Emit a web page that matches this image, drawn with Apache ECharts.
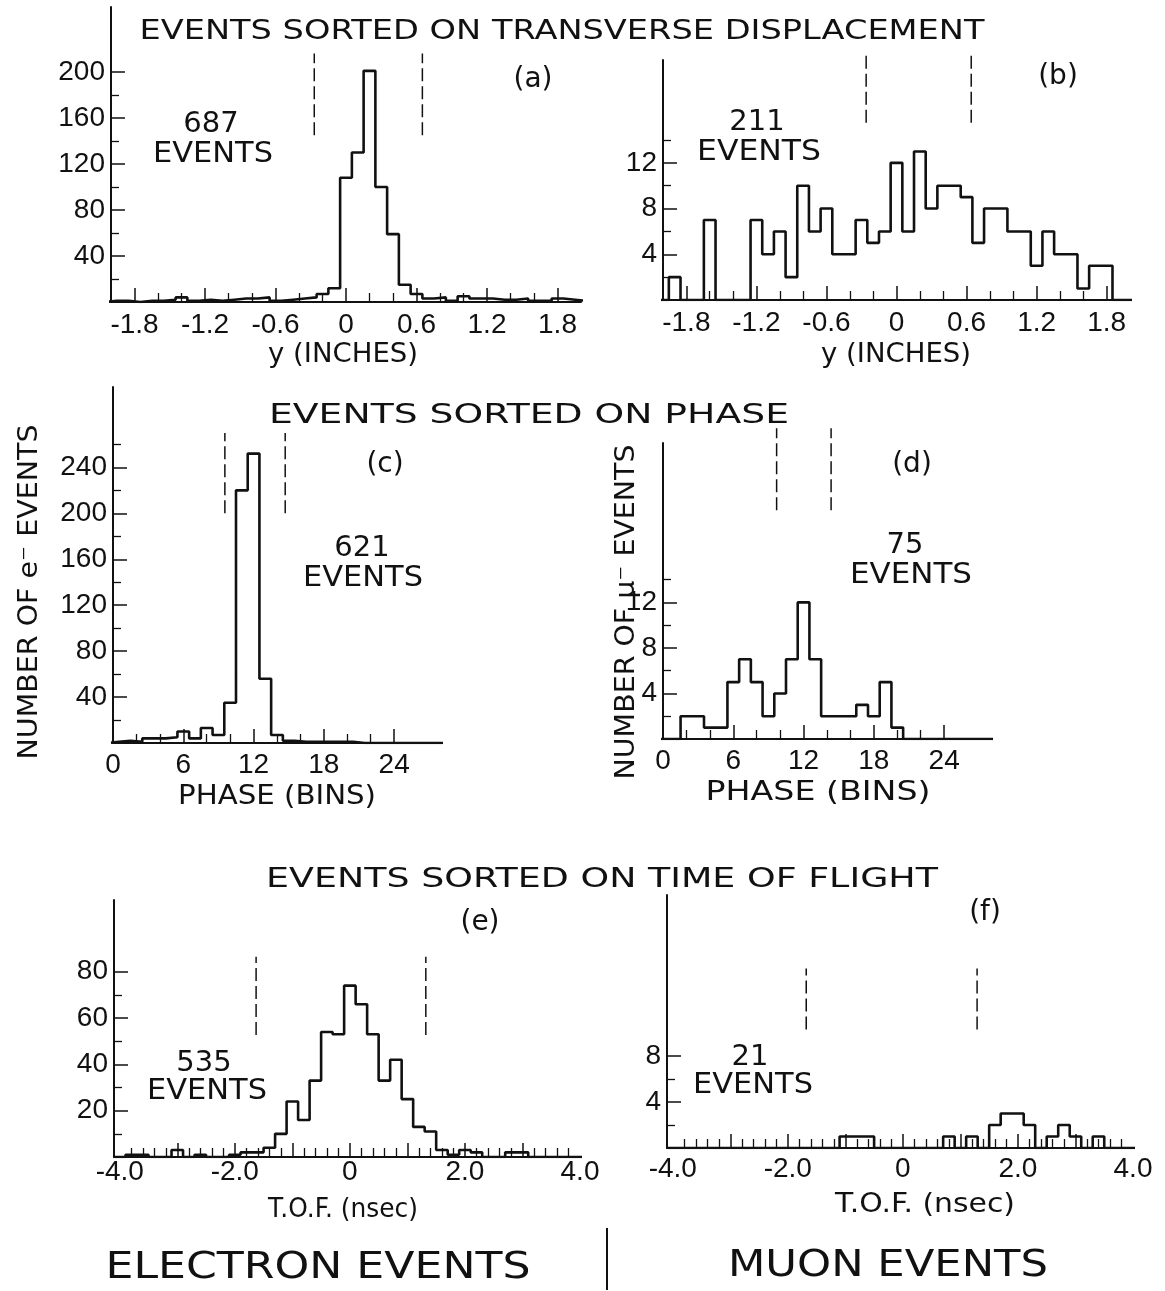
<!DOCTYPE html>
<html><head><meta charset="utf-8">
<script src="https://cdn.jsdelivr.net/npm/echarts@6/dist/echarts.min.js"></script>
<style>html,body{margin:0;padding:0;background:#fff}#c{width:1165px;height:1291px}</style>
</head><body><div id="c"></div>
<script>
// ---------------- DATA ----------------
// (a) electrons, transverse displacement y (inches); bin centres from aBinFirst, width aBinWidth
const aBinFirst = -2.0, aBinWidth = 0.1;
const aCounts = [1,1,0,1,1,2,4,1,2,1, 2,3,3,4,1,2,3,4,7,12, 108,130,201,100,59,15,7,3,4,1, 5,3,3,2,2,3,1,1,3,2, 1];
const aCuts = [-0.27, 0.65];
// (b) muons, transverse displacement
const bBinFirst = -2.0, bBinWidth = 0.1;
const bCounts = [0,2,0,0,7,0,0,0,7,4, 6,2,10,6,8,4,4,7,5,6, 12,6,13,8,10,10,9,5,8,8, 6,6,3,6,4,4,1,3,3,0, 0];
const bCuts = [-0.26, 0.64];
// (c) electrons, phase (bins)
const cBinFirst = 0, cBinWidth = 1;
const cCounts = [1,2,1,4,4,5,10,4,13,7,35,220,252,56,7,2,1,1,1,1,1,0,0,0,0,0,0,0,0];
const cCuts = [9.55, 14.7];
// (d) muons, phase (bins)
const dBinFirst = 0, dBinWidth = 1;
const dCounts = [0,0,2,2,1,1,5,7,5,2,4,7,12,7,2,2,2,3,2,5,1,0,0,0,0,0,0,0,0];
const dCuts = [9.7, 14.35];
// (e) electrons, time of flight (nsec)
const eBinFirst = -4.0, eBinWidth = 0.2;
const eCounts = [0,1,1,0,0,3,0,1,0,0, 1,2,2,4,10,24,16,33,54,53, 74,66,53,33,42,25,13,11,3,1, 3,2,0,0,2,2,0,0,0,0, 0];
const eCuts = [-1.63, 1.32];
// (f) muons, time of flight (nsec)
const fBinFirst = -4.0, fBinWidth = 0.2;
const fCounts = [0,0,0,0,0,0,0,0,0,0, 0,0,0,0,0,1,1,1,0,0, 0,0,0,0,1,0,1,0,2,3, 3,2,0,1,2,1,0,1,0,0, 0];
const fCuts = [-1.68, 1.29];

// tick labels
const yInchLabels = [-1.8, -1.2, -0.6, 0, 0.6, 1.2, 1.8];
const phaseLabels = [0, 6, 12, 18, 24];
const tofLabels = [-4, -2, 0, 2, 4];
const aYLabels = [40, 80, 120, 160, 200];
const aYMinor = [20, 60, 100, 140, 180];
const bYLabels = [4, 8, 12];
const bYMinor = [2, 6, 10, 14];
const cYLabels = [40, 80, 120, 160, 200, 240];
const cYMinor = [20, 60, 100, 140, 180, 220, 260];
const dYLabels = [4, 8, 12];
const dYMinor = [2, 6, 10, 14];
const eYLabels = [20, 40, 60, 80];
const eYMinor = [10, 30, 50, 70];
const fYLabels = [4, 8];
const fYMinor = [2, 6];
const phaseMajorTicks = [6, 12, 18, 24];
const phaseMinorTicks = [2, 4, 8, 10, 14, 16, 20, 22];
const tofMajorTicks = [-3, -2, -1, 0, 1, 2, 3];

function stepList(from, to, step, exclude) {
  const out = [];
  for (let v = from; v <= to + 1e-9; v += step) {
    const r = Math.round(v * 10) / 10;
    if (!exclude.some(e => Math.abs(e - r) < 1e-6)) out.push(r);
  }
  return out;
}
const inchMinorTicks = stepList(-1.8, 1.8, 0.2, yInchLabels);
const tofMinorTicks = stepList(-3.8, 3.8, 0.2, tofMajorTicks);

// ---------------- BUILD ----------------
const FF = 'DejaVu Sans';
const LF = 'Liberation Sans';
const INK = '#111';
const grids = [], xAxes = [], yAxes = [], series = [];

function stepData(first, width, counts) {
  const pts = [[first - width / 2, 0]];
  counts.forEach((c, i) => pts.push([first + i * width - width / 2, c]));
  const end = first + (counts.length - 1) * width + width / 2;
  pts.push([end, counts[counts.length - 1]]);
  pts.push([end, 0]);
  return pts;
}

function addPanel(p) {
  const gi = grids.length;
  grids.push({left: p.grid[0], top: p.grid[1], width: p.grid[2], height: p.grid[3], containLabel: false});
  const xi = xAxes.length, yi = yAxes.length;
  const lab = {fontSize: 28, fontFamily: LF, color: INK};
  xAxes.push({type: 'value', gridIndex: gi, position: 'bottom', min: p.xMin, max: p.xMax,
    axisLine: {onZero: false, lineStyle: {color: INK, width: 2}},
    axisTick: {inside: true, length: 14, customValues: p.xMajor, lineStyle: {color: INK, width: 1.5}},
    axisLabel: Object.assign({customValues: p.xLabels, formatter: p.xFmt, margin: p.xMargin}, lab),
    splitLine: {show: false}});
  xAxes.push({type: 'value', gridIndex: gi, position: 'bottom', offset: 0, min: p.xMin, max: p.xMax,
    axisLine: {show: false, onZero: false},
    axisTick: {inside: true, length: 9, customValues: p.xMinor, lineStyle: {color: INK, width: 1.3}},
    axisLabel: {show: false}, splitLine: {show: false}});
  yAxes.push({type: 'value', gridIndex: gi, position: 'left', min: 0, max: p.yMax,
    axisLine: {onZero: false, lineStyle: {color: INK, width: 2}},
    axisTick: {inside: true, length: 14, customValues: p.yLabels, lineStyle: {color: INK, width: 1.5}},
    axisLabel: Object.assign({customValues: p.yLabels, margin: 6, formatter: v => String(v)}, lab),
    splitLine: {show: false}});
  yAxes.push({type: 'value', gridIndex: gi, position: 'left', offset: 0, min: 0, max: p.yMax,
    axisLine: {show: false, onZero: false},
    axisTick: {inside: true, length: 8, customValues: p.yMinor, lineStyle: {color: INK, width: 1.3}},
    axisLabel: {show: false}, splitLine: {show: false}});
  series.push({type: 'line', xAxisIndex: xi, yAxisIndex: yi, step: 'end', symbol: 'none',
    data: stepData(p.binFirst, p.binWidth, p.counts), lineStyle: {color: INK, width: 2.6},
    clip: true, silent: true, animation: false});
  p.cuts.forEach(c => {
    series.push({type: 'line', xAxisIndex: xi, yAxisIndex: yi, symbol: 'none',
      data: [[c, p.cutSpan[0]], [c, p.cutSpan[1]]],
      lineStyle: {color: INK, width: 1.5, type: [13, 5]}, clip: false, silent: true, animation: false});
  });
}

const fmtInch = v => (v === 0 ? '0' : String(v));
const fmtTof = v => (v === 0 ? '0' : v.toFixed(1));

addPanel({grid: [111, 7, 470, 295], xMin: -2, xMax: 2, yMax: 256.5, xMargin: 9,
  xLabels: yInchLabels, xMajor: yInchLabels, xMinor: inchMinorTicks, xFmt: fmtInch,
  yLabels: aYLabels, yMinor: aYMinor, binFirst: aBinFirst, binWidth: aBinWidth, counts: aCounts,
  cuts: aCuts, cutSpan: [145, 216]});
addPanel({grid: [663, 60, 467, 240], xMin: -2, xMax: 2, yMax: 21, xMargin: 9,
  xLabels: yInchLabels, xMajor: yInchLabels, xMinor: inchMinorTicks, xFmt: fmtInch,
  yLabels: bYLabels, yMinor: bYMinor, binFirst: bBinFirst, binWidth: bBinWidth, counts: bCounts,
  cuts: bCuts, cutSpan: [15.5, 21.6]});
addPanel({grid: [113, 387, 328, 356], xMin: 0, xMax: 28, yMax: 310, xMargin: 8,
  xLabels: phaseLabels, xMajor: phaseMajorTicks, xMinor: phaseMinorTicks, xFmt: v => String(v),
  yLabels: cYLabels, yMinor: cYMinor, binFirst: cBinFirst, binWidth: cBinWidth, counts: cCounts,
  cuts: cCuts, cutSpan: [200, 270]});
addPanel({grid: [663, 443, 328, 296], xMin: 0, xMax: 28, yMax: 26, xMargin: 8,
  xLabels: phaseLabels, xMajor: phaseMajorTicks, xMinor: phaseMinorTicks, xFmt: v => String(v),
  yLabels: dYLabels, yMinor: dYMinor, binFirst: dBinFirst, binWidth: dBinWidth, counts: dCounts,
  cuts: dCuts, cutSpan: [20.1, 27.3]});
addPanel({grid: [114, 900, 466, 257], xMin: -4.1, xMax: 4.0, yMax: 111, xMargin: 1,
  xLabels: tofLabels, xMajor: tofMajorTicks, xMinor: tofMinorTicks, xFmt: fmtTof,
  yLabels: eYLabels, yMinor: eYMinor, binFirst: eBinFirst, binWidth: eBinWidth, counts: eCounts,
  cuts: eCuts, cutSpan: [52.7, 86.5]});
addPanel({grid: [667, 895, 466, 253], xMin: -4.1, xMax: 4.0, yMax: 22, xMargin: 7,
  xLabels: tofLabels, xMajor: tofMajorTicks, xMinor: tofMinorTicks, xFmt: fmtTof,
  yLabels: fYLabels, yMinor: fYMinor, binFirst: fBinFirst, binWidth: fBinWidth, counts: fCounts,
  cuts: fCuts, cutSpan: [10.3, 15.6]});

// ---------------- TEXT ----------------
const mctx = document.createElement('canvas').getContext('2d');
function measure(text, size) { mctx.font = size + 'px "' + FF + '"'; return mctx.measureText(text).width; }
function txt(text, x, y, size, width, rot) {
  const el = {type: 'text', x: x, y: y, silent: true,
    style: {text: text, fontSize: size, fontFamily: FF, fill: INK,
      textAlign: 'center', textVerticalAlign: 'middle', align: 'center', verticalAlign: 'middle'}};
  if (width) el.scaleX = width / measure(text, size);
  if (rot) el.rotation = rot;
  return el;
}
const graphics = [
  txt('EVENTS SORTED ON TRANSVERSE DISPLACEMENT', 562, 32, 26, 845),
  txt('EVENTS SORTED ON PHASE', 529, 416, 26, 520),
  txt('EVENTS SORTED ON TIME OF FLIGHT', 602, 880, 26, 672),
  txt('(a)', 533, 80, 28), txt('(b)', 1058, 77, 28), txt('(c)', 385, 465, 28),
  txt('(d)', 912, 465, 28), txt('(e)', 480, 923, 28), txt('(f)', 985, 913, 28),
  txt('687', 211, 124, 29), txt('EVENTS', 213, 154, 29, 120),
  txt('211', 757, 122, 29), txt('EVENTS', 759, 152, 29, 124),
  txt('621', 362, 548, 29), txt('EVENTS', 363, 578, 29, 120),
  txt('75', 905, 545, 29), txt('EVENTS', 911, 575, 29, 122),
  txt('535', 204, 1063, 29), txt('EVENTS', 207, 1091, 29, 120),
  txt('21', 750, 1057, 29), txt('EVENTS', 753, 1085, 29, 120),
  txt('y (INCHES)', 343, 355, 27, 150), txt('y (INCHES)', 896, 355, 27, 150),
  txt('PHASE (BINS)', 277, 797, 27, 198), txt('PHASE (BINS)', 818, 793, 27, 225),
  txt('T.O.F. (nsec)', 343, 1210, 27, 150), txt('T.O.F. (nsec)', 925, 1205, 27, 180),
  txt('NUMBER OF e⁻ EVENTS', 30, 592, 27, 335, Math.PI / 2),
  txt('NUMBER OF μ⁻ EVENTS', 627, 612, 27, 335, Math.PI / 2),
  txt('ELECTRON EVENTS', 318, 1268, 38, 425),
  txt('MUON EVENTS', 888, 1266, 38, 320),
  {type: 'line', silent: true, shape: {x1: 607, y1: 1228, x2: 607, y2: 1290}, style: {stroke: INK, lineWidth: 2}}
];

const chart = echarts.init(document.getElementById('c'), null, {renderer: 'canvas'});
chart.setOption({
  animation: false,
  backgroundColor: '#fff',
  grid: grids, xAxis: xAxes, yAxis: yAxes, series: series,
  graphic: {elements: graphics}
});
</script>
</body></html>
